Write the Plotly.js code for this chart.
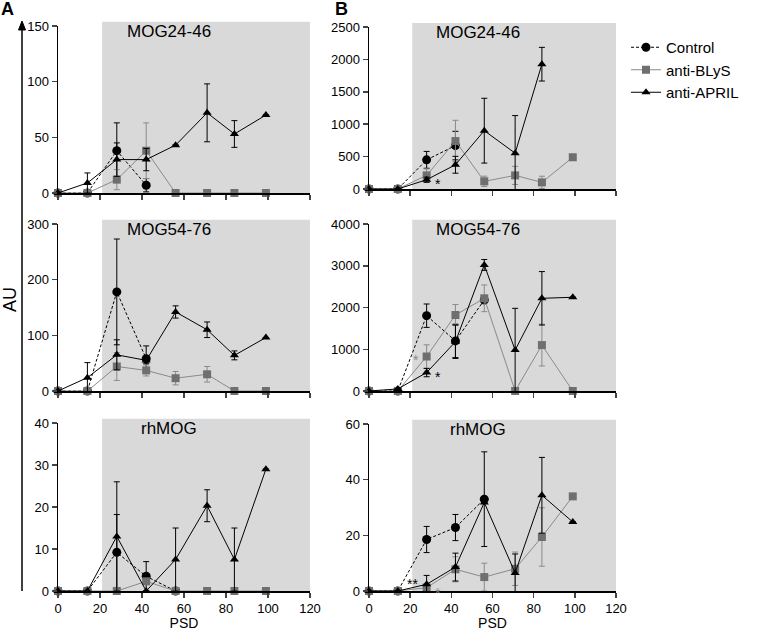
<!DOCTYPE html>
<html>
<head>
<meta charset="utf-8">
<script src="https://cdn.plot.ly/plotly-3.0.1.min.js"></script>
<style>html,body{margin:0;padding:0;background:#fff;}#chart{width:761px;height:631px;}</style>
</head>
<body>
<div id="chart"></div>
<script>
// ---- data ----
const days = [0, 14, 28, 42, 56, 71, 84, 99];
const seriesNames = ["Control", "anti-BLyS", "anti-APRIL"];
const panelTitles = ["MOG24-46", "MOG54-76", "rhMOG", "MOG24-46", "MOG54-76", "rhMOG"];
const xTicks = [0, 20, 40, 60, 80, 100, 120];

// Panel A – MOG24-46
const aMog24Control    = [0, 0, 38, 7, null, null, null, null];
const aMog24ControlErr = [0, 0, 25, 6, 0, 0, 0, 0];
const aMog24Blys       = [0, 0, 12, 38, 0, 0, 0, 0];
const aMog24BlysErr    = [0, 0, 9, 25, 0, 0, 0, 0];
const aMog24April      = [0, 9, 30, 30, 43, 72, 53, 70];
const aMog24AprilErr   = [0, 9, 15, 10, 0, 26, 12, 0];

// Panel A – MOG54-76
const aMog54Control    = [0, 0, 178, 58, null, null, null, null];
const aMog54ControlErr = [0, 0, 95, 23, 0, 0, 0, 0];
const aMog54Blys       = [0, 0, 44, 37, 23, 30, 0, 0];
const aMog54BlysErr    = [0, 0, 25, 10, 12, 14, 0, 0];
const aMog54April      = [0, 24, 65, 55, 142, 110, 64, 96];
const aMog54AprilErr   = [0, 27, 27, 6, 11, 14, 8, 0];

// Panel A – rhMOG
const aRhControl    = [0, 0, 9.2, 3.5, 0, null, null, null];
const aRhControlErr = [0, 0, 9, 3.5, 0, 0, 0, 0];
const aRhBlys       = [0, 0, 0, 2.3, 0, 0, 0, 0];
const aRhBlysErr    = [0, 0, 0, 0, 0, 0, 0, 0];
const aRhApril      = [0, 0, 13, 0, 7.5, 20.3, 7.5, 29];
const aRhAprilErr   = [0, 0, 13, 0, 7.5, 3.8, 7.5, 0];

// Panel B – MOG24-46
const bMog24Control    = [0, 0, 450, 670, null, null, null, null];
const bMog24ControlErr = [0, 0, 130, 220, 0, 0, 0, 0];
const bMog24Blys       = [0, 0, 210, 740, 118, 210, 102, 490];
const bMog24BlysErr    = [0, 0, 100, 320, 80, 140, 95, 0];
const bMog24April      = [0, 0, 143, 374, 900, 553, 1926, null];
const bMog24AprilErr   = [0, 0, 40, 130, 500, 580, 260, 0];

// Panel B – MOG54-76
const bMog54Control    = [0, 0, 1804, 1200, 2180, null, null, null];
const bMog54ControlErr = [0, 0, 280, 400, 0, 0, 0, 0];
const bMog54Blys       = [0, 0, 826, 1820, 2220, 0, 1100, 0];
const bMog54BlysErr    = [0, 0, 280, 250, 320, 0, 500, 0];
const bMog54April      = [0, 50, 441, 1180, 3020, 980, 2220, 2245];
const bMog54AprilErr   = [0, 0, 100, 400, 130, 1000, 640, 0];

// Panel B – rhMOG
const bRhControl    = [0, 0, 18.5, 22.8, 33, null, null, null];
const bRhControlErr = [0, 0, 4.7, 4.7, 17, 0, 0, 0];
const bRhBlys       = [0, 0, 1.2, 7.8, 5, 8, 19.4, 34];
const bRhBlysErr    = [0, 0, 1.5, 4.5, 5, 6, 10.5, 0];
const bRhApril      = [0, 0, 2.4, 8.6, 31.8, 6.5, 34.4, 24.8];
const bRhAprilErr   = [0, 0, 3.2, 5, 0, 6.8, 13.6, 0];

const yRanges = [[0, 150], [0, 300], [0, 40], [0, 2500], [0, 4000], [0, 60]];
const yDticks = [50, 100, 10, 500, 1000, 20];
const shadeStart = 21;

// ---- styling ----
const FONT = '"Liberation Sans", Arial, sans-serif';
const styles = [
  {line: {color: '#000', width: 1, dash: '3px,2px'}, marker: {symbol: 'circle', size: 9, color: '#000'}, err: '#000'},
  {line: {color: '#8a8a8a', width: 1}, marker: {symbol: 'square', size: 8, color: '#6f6f6f'}, err: '#8a8a8a'},
  {line: {color: '#000', width: 1}, marker: {symbol: 'triangle-up', size: 8, color: '#000'}, err: '#000'}
];

const panels = [
  [[aMog24Control, aMog24ControlErr], [aMog24Blys, aMog24BlysErr], [aMog24April, aMog24AprilErr]],
  [[aMog54Control, aMog54ControlErr], [aMog54Blys, aMog54BlysErr], [aMog54April, aMog54AprilErr]],
  [[aRhControl, aRhControlErr], [aRhBlys, aRhBlysErr], [aRhApril, aRhAprilErr]],
  [[bMog24Control, bMog24ControlErr], [bMog24Blys, bMog24BlysErr], [bMog24April, bMog24AprilErr]],
  [[bMog54Control, bMog54ControlErr], [bMog54Blys, bMog54BlysErr], [bMog54April, bMog54AprilErr]],
  [[bRhControl, bRhControlErr], [bRhBlys, bRhBlysErr], [bRhApril, bRhAprilErr]]
];

const W = 761, H = 631;
const px = v => v / W;
const py = v => (H - v) / H;
const xDomains = [[px(58), px(310)], [px(58), px(310)], [px(58), px(310)], [px(369), px(616)], [px(369), px(616)], [px(369), px(616)]];
const yDomains = [[py(193), py(26)], [py(391), py(224)], [py(591), py(423)], [py(189), py(27)], [py(391), py(224)], [py(591), py(424)]];

const traces = [];
const layout = {
  width: W, height: H,
  margin: {l: 0, r: 0, t: 0, b: 0},
  paper_bgcolor: '#fff', plot_bgcolor: 'rgba(0,0,0,0)',
  font: {family: FONT, color: '#000', size: 13},
  showlegend: true,
  legend: {x: px(626), y: py(31), xanchor: 'left', yanchor: 'top', font: {size: 15, family: FONT}, bgcolor: 'rgba(0,0,0,0)', tracegroupgap: 0},
  shapes: [], annotations: []
};

panels.forEach((panel, p) => {
  const n = p + 1;
  const xa = n === 1 ? 'x' : 'x' + n;
  const ya = n === 1 ? 'y' : 'y' + n;
  panel.forEach((s, k) => {
    const st = styles[k];
    traces.push({
      type: 'scatter', mode: 'lines+markers',
      x: days, y: s[0], xaxis: xa, yaxis: ya,
      name: seriesNames[k], showlegend: p === 0, legendgroup: seriesNames[k],
      line: st.line, marker: st.marker, cliponaxis: false,
      connectgaps: false,
      error_y: {type: 'data', array: s[1], visible: true, color: st.err, thickness: 1, width: 3}
    });
  });
  const bottom = (p === 2 || p === 5);
  layout['xaxis' + (n === 1 ? '' : n)] = {
    domain: xDomains[p], anchor: ya, range: [0, 120],
    tickmode: 'array', tickvals: xTicks, ticktext: xTicks.map(String),
    showticklabels: bottom, ticks: 'outside', ticklen: 5, tickwidth: 1.5,
    showline: true, linewidth: 1.5, linecolor: '#000', showgrid: false, zeroline: false,
    tickfont: {size: 13, family: FONT},
    title: bottom ? {text: 'PSD', font: {size: 14, family: FONT}, standoff: 7} : {text: ''}
  };
  layout['yaxis' + (n === 1 ? '' : n)] = {
    domain: yDomains[p], anchor: xa, range: yRanges[p], dtick: yDticks[p], tick0: 0,
    ticks: 'outside', ticklen: 5, tickwidth: 1.5,
    showline: true, linewidth: 1.5, linecolor: '#000', showgrid: false, zeroline: false,
    tickfont: {size: 13, family: FONT}
  };
  layout.shapes.push({
    type: 'rect', layer: 'below', xref: xa, yref: ya + ' domain',
    x0: shadeStart, x1: 120, y0: 0, y1: 1.025,
    fillcolor: '#d9d9d9', line: {width: 0}
  });
  layout.annotations.push({
    xref: xa, yref: ya + ' domain', x: 53, y: 1, xanchor: 'center', yanchor: 'middle', yshift: -5,
    text: panelTitles[p], showarrow: false, font: {size: 17, family: FONT}
  });
});

// significance asterisks
const starAnn = (xa, ya, xv, yv, txt, col, xs, ys) => layout.annotations.push({
  xref: xa, yref: ya, x: xv, y: yv, text: txt, showarrow: false, xanchor: 'center', yanchor: 'middle',
  font: {size: 14, color: col, family: FONT}, xshift: xs, yshift: ys
});
starAnn('x4', 'y4', days[2], bMog24April[2], '*', '#000', 11, -4);
starAnn('x5', 'y5', days[2], bMog54Blys[2], '*', '#8a8a8a', -11, -3);
starAnn('x5', 'y5', days[2], bMog54April[2], '*', '#000', 11, -4);
starAnn('x6', 'y6', days[2], bRhApril[2], '**', '#000', -14, 0);
starAnn('x6', 'y6', days[2], bRhBlys[2], '*', '#8a8a8a', 11, -5);

// panel letters and AU label
layout.annotations.push({xref: 'paper', yref: 'paper', x: px(7), y: py(9), xanchor: 'center', yanchor: 'middle', text: '<b>A</b>', showarrow: false, font: {size: 18, family: FONT}});
layout.annotations.push({xref: 'paper', yref: 'paper', x: px(341), y: py(9), xanchor: 'center', yanchor: 'middle', text: '<b>B</b>', showarrow: false, font: {size: 18, family: FONT}});
layout.annotations.push({xref: 'paper', yref: 'paper', x: px(10), y: py(300), xanchor: 'center', yanchor: 'middle', text: 'AU', textangle: -90, showarrow: false, font: {size: 18, family: FONT}});

// long arrowed axis
layout.shapes.push({type: 'line', xref: 'paper', yref: 'paper', x0: px(22), x1: px(22), y0: py(591), y1: py(27), line: {color: '#000', width: 1.5}});
layout.shapes.push({type: 'path', xref: 'paper', yref: 'paper',
  path: 'M ' + px(18.5) + ' ' + py(30) + ' L ' + px(25.5) + ' ' + py(30) + ' L ' + px(22) + ' ' + py(21) + ' Z',
  fillcolor: '#000', line: {color: '#000', width: 1}});

Plotly.newPlot('chart', traces, layout, {displayModeBar: false, staticPlot: true});
</script>
</body>
</html>
